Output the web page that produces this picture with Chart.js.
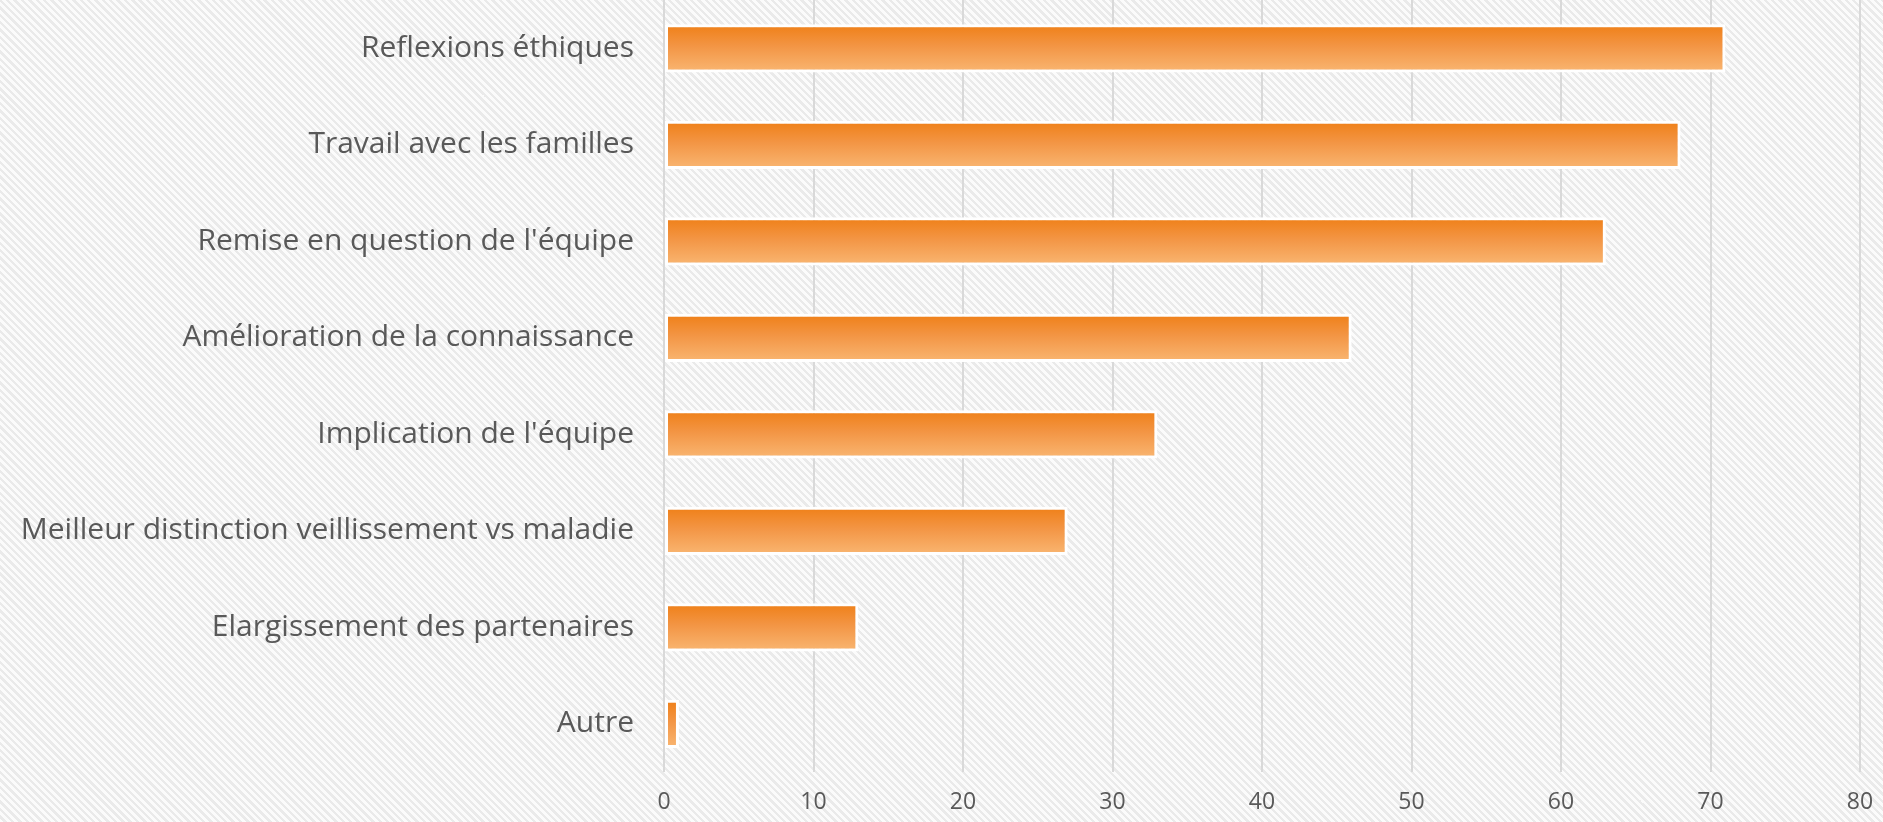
<!DOCTYPE html>
<html>
<head>
<meta charset="utf-8">
<script src="https://cdn.jsdelivr.net/npm/chart.js@4/dist/chart.umd.min.js"></script>
<style>
  html, body {
    margin: 0;
    padding: 0;
    width: 1883px;
    height: 822px;
    overflow: hidden;
    background: repeating-linear-gradient(45deg, #fbfbfb 0px, #fbfbfb 2.8px, #eaeaea 2.8px, #eaeaea 5.2px);
  }
  #wrap { position: relative; width: 1883px; height: 822px; }
</style>
</head>
<body>
<div id="wrap"><canvas id="myChart" width="1883" height="822"></canvas></div>
<script>
  var labels = [
    "Reflexions éthiques",
    "Travail avec les familles",
    "Remise en question de l'équipe",
    "Amélioration de la connaissance",
    "Implication de l'équipe",
    "Meilleur distinction veillissement vs maladie",
    "Elargissement des partenaires",
    "Autre"
  ];
  var values = [71, 68, 63, 46, 33, 27, 13, 1];
  var xTicks = [0, 10, 20, 30, 40, 50, 60, 70, 80];

  var textColor = "#595959";
  var fontName = "'Open Sans', 'DejaVu Sans', sans-serif";
  var barPct = 0.5;

  // vertical gradient for each bar, from the y scale's band
  function barFill(context) {
    var chart = context.chart;
    var y = chart.scales.y;
    if (!y || context.dataIndex === undefined) return "#f39544";
    var c = y.getPixelForValue(context.dataIndex);
    var h = (y.height / labels.length) * barPct;
    if (!isFinite(c) || !isFinite(h) || h <= 0) return "#f39544";
    var g = chart.ctx.createLinearGradient(0, c - h / 2, 0, c + h / 2);
    g.addColorStop(0, "#ef7f16");
    g.addColorStop(0.45, "#f39544");
    g.addColorStop(1, "#f9b672");
    return g;
  }

  new Chart("myChart", {
    type: "bar",
    data: {
      labels: labels,
      datasets: [
        {
          data: values,
          backgroundColor: barFill,
          borderColor: "#ffffff",
          borderWidth: 3,
          borderSkipped: false,
          categoryPercentage: 1,
          barPercentage: barPct
        }
      ]
    },
    options: {
      indexAxis: "y",
      responsive: false,
      animation: false,
      layout: { padding: { left: 0, right: 23, top: 0, bottom: 0 } },
      plugins: {
        legend: { display: false },
        title: { display: false },
        tooltip: { enabled: false }
      },
      scales: {
        x: {
          min: 0,
          max: 80,
          afterBuildTicks: function (scale) {
            scale.ticks = xTicks.map(function (v) { return { value: v }; });
          },
          afterFit: function (scale) {
            scale.height = 50;
            scale.paddingLeft = 0;
            scale.paddingRight = 0;
          },
          grid: { color: "#d9d9d9", lineWidth: 2, drawTicks: false },
          border: { display: false },
          ticks: {
            color: textColor,
            padding: 17,
            font: { family: fontName, size: 23 }
          }
        },
        y: {
          afterFit: function (scale) {
            scale.width = 664;
            scale.paddingTop = 0;
            scale.paddingBottom = 0;
          },
          grid: { display: false, drawTicks: false },
          border: { display: false },
          ticks: {
            color: textColor,
            padding: 30,
            font: { family: fontName, size: 30 }
          }
        }
      }
    }
  });
</script>
</body>
</html>
